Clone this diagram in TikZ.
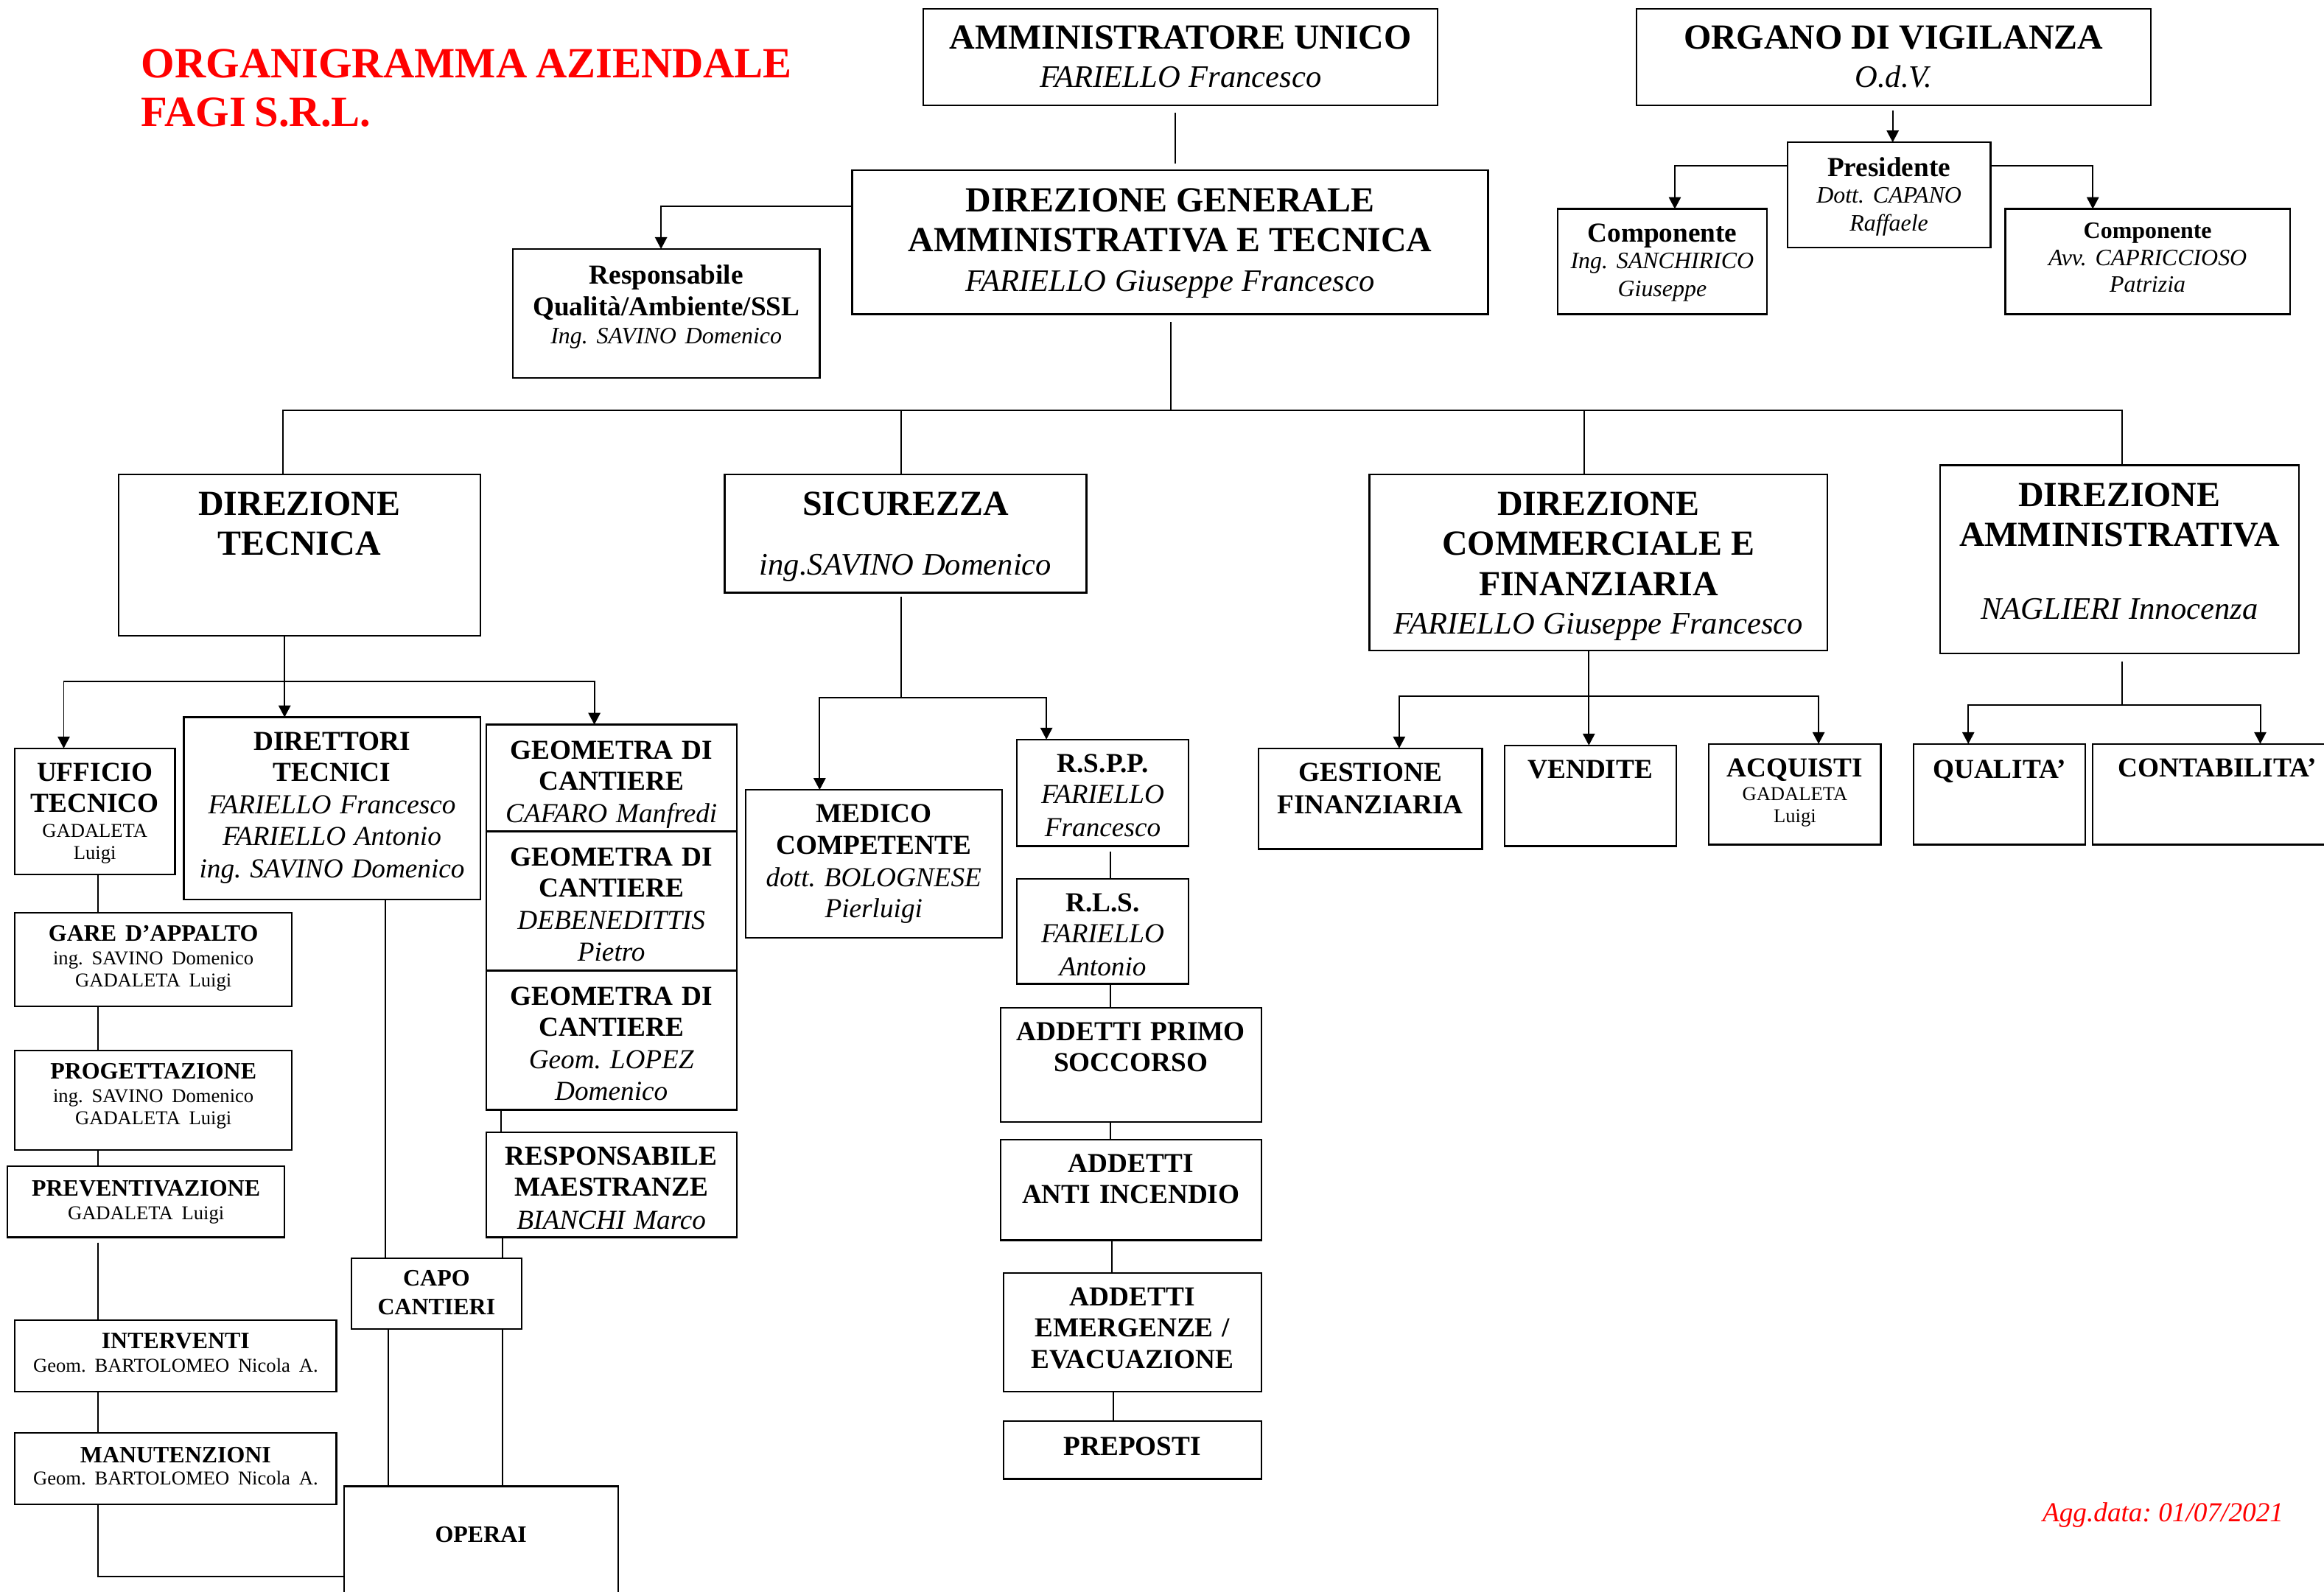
\documentclass[tikz,border=0pt]{standalone}
\usepackage{fontspec}
\setmainfont{Liberation Serif}
\usetikzlibrary{arrows.meta}
\setlength{\parskip}{0pt}
\frenchspacing
\newcommand\LnB[3]{{\fontsize{#1}{#2}\selectfont\bfseries\noindent\hbox to\hsize{\hss#3\hss}\par}}
\newcommand\LnI[3]{{\fontsize{#1}{#2}\selectfont\itshape\noindent\hbox to\hsize{\hss#3\hss}\par}}
\newcommand\LnR[3]{{\fontsize{#1}{#2}\selectfont\noindent\hbox to\hsize{\hss#3\hss}\par}}
\newcommand\orgbox[7]{%
  \pgfmathsetmacro\obw{(#4-#2)*0.567}%
  \pgfmathsetmacro\obh{(#5-#3)*0.567}%
  \node[box,anchor=north west,minimum width=\obw pt,minimum height=\obh pt] (#1) at (#2,#3) {};
  \node[txt,anchor=north,text width=\obw pt] (#1-t) at ({(#2+#4)/2},#6) {\frenchspacing #7};}
\tikzset{
  box/.style={draw,line width=0.65pt,rectangle,inner sep=0pt,outer sep=0pt},
  txt/.style={inner sep=0pt,outer sep=0pt},
  ln/.style={line width=0.55pt},
  arr/.style={line width=0.55pt,-{Triangle[length=4.5pt,width=4.6pt]}}
}
\begin{document}
\begin{tikzpicture}[x=0.567pt,y=-0.567pt]
\path[use as bounding box,fill=white] (0,0) rectangle (1568,1073.85);

% title
\node[anchor=north west,inner sep=0pt,text width=300pt,text=red] (title) at (95,32.7)
  {\fontsize{16.5}{18.7}\selectfont\bfseries\noindent ORGANIGRAMMA AZIENDALE\par\noindent FAGI S.R.L.\par};
\node[anchor=base east,inner sep=0pt,text=red,font=\fontsize{10.5}{12}\selectfont\itshape] (agg) at (1541,1027) {Agg.data: 01/07/2021};

% top level
\orgbox{au}{623}{6}{970}{71}{17.2}{\LnB{13.5}{15}{AMMINISTRATORE UNICO}\LnI{12}{14.7}{FARIELLO Francesco}}
\orgbox{odv}{1104}{6}{1451}{71}{17.2}{\LnB{13.5}{15}{ORGANO DI VIGILANZA}\LnI{12}{14.7}{O.d.V.}}
\orgbox{pres}{1206}{96}{1343}{167}{106}{\LnB{10.5}{12}{Presidente}\LnI{9}{10.2}{Dott. CAPANO}\LnI{9}{10.8}{Raffaele}}
\orgbox{comp1}{1051}{141}{1192}{212}{151}{\LnB{10.5}{12}{Componente}\LnI{9}{10.2}{Ing. SANCHIRICO}\LnI{9}{10.8}{Giuseppe}}
\orgbox{comp2}{1353}{141}{1545}{212}{150.5}{\LnB{9}{10}{Componente}\LnI{9}{10.2}{Avv. CAPRICCIOSO}\LnI{9}{10.2}{Patrizia}}
\orgbox{dg}{575}{115}{1004}{212}{127}{\LnB{13.5}{15}{DIREZIONE GENERALE}\LnB{13.5}{15.3}{AMMINISTRATIVA E TECNICA}\LnI{12}{15.3}{FARIELLO Giuseppe Francesco}}
\orgbox{resp}{346}{168}{553}{255}{179}{\LnB{10.5}{12}{Responsabile}\LnB{10.5}{11.9}{Qualità/Ambiente/SSL}\LnI{9}{10.8}{Ing. SAVINO Domenico}}

% second level
\orgbox{dt}{80}{320}{324}{429}{332}{\LnB{13.5}{15}{DIREZIONE}\LnB{13.5}{15.3}{TECNICA}}
\orgbox{sic}{489}{320}{733}{400}{332}{\LnB{13.5}{15}{SICUREZZA}\LnI{12}{22.7}{ing.SAVINO Domenico}}
\orgbox{dcf}{924}{320}{1233}{439}{332}{\LnB{13.5}{15}{DIREZIONE}\LnB{13.5}{15.3}{COMMERCIALE E}\LnB{13.5}{15.3}{FINANZIARIA}\LnI{12}{14.7}{FARIELLO Giuseppe Francesco}}
\orgbox{da}{1309}{314}{1551}{441}{326}{\LnB{13.5}{15}{DIREZIONE}\LnB{13.5}{15.3}{AMMINISTRATIVA}\LnI{12}{27.8}{NAGLIERI Innocenza}}

% direzione tecnica subtree
\orgbox{ut}{10}{505}{118}{590}{515}{\LnB{10.5}{12}{UFFICIO}\LnB{10.5}{11.9}{TECNICO}\LnR{7.5}{9.4}{GADALETA}\LnR{7.5}{8.5}{Luigi}}
\orgbox{dirt}{124}{484}{324}{607}{494}{\LnB{10.5}{12}{DIRETTORI}\LnB{10.5}{11.9}{TECNICI}\LnI{10.5}{12.5}{FARIELLO Francesco}\LnI{10.5}{11.9}{FARIELLO Antonio}\LnI{10.5}{12.5}{ing. SAVINO Domenico}}
\orgbox{geo1}{328}{489}{497}{561}{500}{\LnB{10.5}{12}{GEOMETRA DI}\LnB{10.5}{11.9}{CANTIERE}\LnI{10.5}{12.5}{CAFARO Manfredi}}
\orgbox{geo2}{328}{561}{497}{655}{572}{\LnB{10.5}{12}{GEOMETRA DI}\LnB{10.5}{11.9}{CANTIERE}\LnI{10.5}{12.5}{DEBENEDITTIS}\LnI{10.5}{11.9}{Pietro}}
\orgbox{geo3}{328}{655}{497}{749}{666}{\LnB{10.5}{12}{GEOMETRA DI}\LnB{10.5}{11.9}{CANTIERE}\LnI{10.5}{12.5}{Geom. LOPEZ}\LnI{10.5}{11.9}{Domenico}}
\orgbox{rm}{328}{764}{497}{835}{774}{\LnB{10.5}{12}{RESPONSABILE}\LnB{10.5}{11.9}{MAESTRANZE}\LnI{10.5}{12.5}{BIANCHI Marco}}
\orgbox{gare}{10}{616}{197}{679}{624.5}{\LnB{9}{10}{GARE D’APPALTO}\LnR{7.5}{9.1}{ing. SAVINO Domenico}\LnR{7.5}{8.5}{GADALETA Luigi}}
\orgbox{prog}{10}{709}{197}{776}{717.5}{\LnB{9}{10}{PROGETTAZIONE}\LnR{7.5}{9.1}{ing. SAVINO Domenico}\LnR{7.5}{8.5}{GADALETA Luigi}}
\orgbox{prev}{5}{787}{192}{835}{796.5}{\LnB{9}{10}{PREVENTIVAZIONE}\LnR{7.5}{9.1}{GADALETA Luigi}}
\orgbox{int}{10}{891}{227}{939}{899.5}{\LnB{9}{10}{INTERVENTI}\LnR{7.5}{9.1}{Geom. BARTOLOMEO Nicola A.}}
\orgbox{man}{10}{967}{227}{1015}{976.5}{\LnB{9}{10}{MANUTENZIONI}\LnR{7.5}{8.5}{Geom. BARTOLOMEO Nicola A.}}
\orgbox{cc}{237}{849}{352}{897}{857.5}{\LnB{9}{10}{CAPO}\LnB{9}{10.8}{CANTIERI}}
\orgbox{operai}{232}{1003}{417}{1095}{1030.5}{\LnB{9}{10}{OPERAI}}

% sicurezza subtree
\orgbox{med}{503}{533}{676}{633}{543}{\LnB{10.5}{12}{MEDICO}\LnB{10.5}{11.9}{COMPETENTE}\LnI{10.5}{12.5}{dott. BOLOGNESE}\LnI{10.5}{11.9}{Pierluigi}}
\orgbox{rspp}{686}{499}{802}{571}{509}{\LnB{10.5}{12}{R.S.P.P.}\LnI{10.5}{11.9}{FARIELLO}\LnI{10.5}{12.5}{Francesco}}
\orgbox{rls}{686}{593}{802}{664}{603}{\LnB{10.5}{12}{R.L.S.}\LnI{10.5}{11.9}{FARIELLO}\LnI{10.5}{12.5}{Antonio}}
\orgbox{aps}{675}{680}{851}{757}{690}{\LnB{10.5}{12}{ADDETTI PRIMO}\LnB{10.5}{11.9}{SOCCORSO}}
\orgbox{aai}{675}{769}{851}{837}{779}{\LnB{10.5}{12}{ADDETTI}\LnB{10.5}{11.9}{ANTI INCENDIO}}
\orgbox{aee}{677}{859}{851}{939}{869}{\LnB{10.5}{12}{ADDETTI}\LnB{10.5}{11.9}{EMERGENZE /}\LnB{10.5}{11.9}{EVACUAZIONE}}
\orgbox{prep}{677}{959}{851}{998}{970}{\LnB{10.5}{12}{PREPOSTI}}

% commerciale subtree
\orgbox{gf}{849}{505}{1000}{573}{515}{\LnB{10.5}{12}{GESTIONE}\LnB{10.5}{12.5}{FINANZIARIA}}
\orgbox{vend}{1015}{503}{1131}{571}{513}{\LnB{10.5}{12}{VENDITE}}
\orgbox{acq}{1153}{502}{1269}{570}{512}{\LnB{10.5}{12}{ACQUISTI}\LnR{7.5}{9.1}{GADALETA}\LnR{7.5}{8.5}{Luigi}}

% amministrativa subtree
\orgbox{qual}{1291}{502}{1407}{570}{513}{\LnB{10.5}{12}{QUALITA’}}
\orgbox{cont}{1412}{502}{1580}{570}{512}{\LnB{10.5}{12}{CONTABILITA’}}

% ---------- connectors ----------
\draw[ln,shorten <=3pt,shorten >=2.5pt] (au.south -| 793,0) -- (dg.north -| 793,0);
\draw[arr,shorten <=2pt] (odv.south -| 1277,0) -- (pres.north -| 1277,0);
\draw[arr] (pres.west |- 0,112) -| (comp1.north -| 1130,0);
\draw[arr] (pres.east |- 0,112) -| (comp2.north -| 1412,0);
\draw[arr] (dg.west |- 0,139) -| (resp.north -| 446,0);

\coordinate (bus) at (790,277);
\draw[ln,shorten <=3pt] (dg.south -| bus) -- (bus);
\draw[ln] (dt.north -| 191,0) |- (bus) -| (da.north -| 1432,0);
\draw[ln] (bus -| 608,0) -- (sic.north -| 608,0);
\draw[ln] (bus -| 1069,0) -- (dcf.north -| 1069,0);

\coordinate (dtbus) at (192,460);
\draw[ln] (dt.south -| dtbus) -- (dtbus);
\draw[arr] (dtbus) -| (ut.north -| 43,0);
\draw[arr] (dtbus) -- (dirt.north -| dtbus);
\draw[arr] (dtbus) -| (geo1.north -| 401,0);
\draw[ln] (ut.south -| 66,0) -- (gare.north -| 66,0);
\draw[ln] (gare.south -| 66,0) -- (prog.north -| 66,0);
\draw[ln] (prog.south -| 66,0) -- (prev.north -| 66,0);
\draw[ln,shorten <=2pt] (prev.south -| 66,0) -- (int.north -| 66,0);
\draw[ln] (int.south -| 66,0) -- (man.north -| 66,0);
\draw[ln] (man.south -| 66,0) |- (operai.west |- 0,1064);
\draw[ln] (dirt.south -| 260,0) -- (cc.north -| 260,0);
\draw[ln] (geo3.south -| 338,0) -- (rm.north -| 338,0);
\draw[ln] (rm.south -| 339,0) -- (cc.north -| 339,0);
\draw[ln] (cc.south -| 262,0) -- (operai.north -| 262,0);
\draw[ln] (cc.south -| 339,0) -- (operai.north -| 339,0);

\coordinate (sicbus) at (608,471);
\draw[ln,shorten <=1.5pt] (sic.south -| sicbus) -- (sicbus);
\draw[arr] (sicbus) -| (med.north -| 553,0);
\draw[arr] (sicbus) -| (rspp.north -| 706,0);
\draw[ln,shorten <=2pt] (rspp.south -| 749,0) -- (rls.north -| 749,0);
\draw[ln] (rls.south -| 749,0) -- (aps.north -| 749,0);
\draw[ln] (aps.south -| 749,0) -- (aai.north -| 749,0);
\draw[ln] (aai.south -| 750,0) -- (aee.north -| 750,0);
\draw[ln] (aee.south -| 751,0) -- (prep.north -| 751,0);

\coordinate (dcfbus) at (1072,470);
\draw[arr] (dcf.south -| dcfbus) -- (vend.north -| dcfbus);
\draw[ln] (dcfbus -| 944,0) -- (dcfbus -| 1227,0);
\draw[arr] (dcfbus) -| (gf.north -| 944,0);
\draw[arr] (dcfbus) -| (acq.north -| 1227,0);

\coordinate (dabus) at (1432,476);
\draw[ln,shorten <=3pt] (da.south -| dabus) -- (dabus);
\draw[arr] (dabus) -| (qual.north -| 1328,0);
\draw[arr] (dabus) -| (cont.north -| 1525,0);
\end{tikzpicture}
\end{document}
